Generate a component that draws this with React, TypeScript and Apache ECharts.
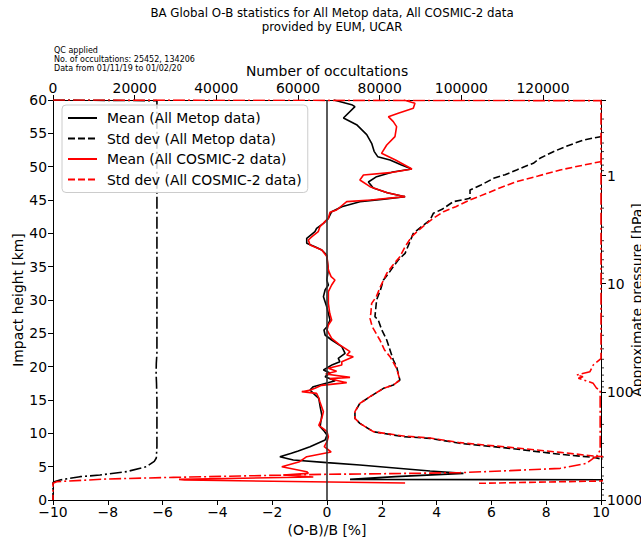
import React, { useEffect, useRef } from "react";
import * as echarts from "echarts";

// [ (O-B)/B %, impact height km ]
const metopMean: number[][] = [
  [0.25, 60], [0.9, 59.3], [1.02, 59.0], [0.6, 57.3], [1.08, 56.3], [1.45, 54.8], [1.63, 53.5], [1.72, 52.3],
  [1.85, 51.5], [2.3, 51.0], [2.7, 50.3], [3.09, 49.65], [2.4, 49.2], [1.81, 48.5], [1.51, 47.7], [1.69, 46.8],
  [2.2, 46.1], [2.85, 45.5], [2.0, 45.1], [1.2, 44.75], [0.54, 44.0], [0.17, 43.25], [0.05, 42.25], [-0.13, 41.5],
  [-0.38, 40.75], [-0.44, 40.25], [-0.74, 39.25], [-0.74, 38.5], [-0.44, 38.0], [-0.19, 37.5], [-0.01, 36.75],
  [0.02, 35.5], [0.05, 34.5], [-0.01, 33.0], [0.05, 32.25], [-0.07, 31.5], [-0.13, 30.5], [-0.01, 29.0],
  [0.11, 27.0], [0.0, 26.0], [-0.11, 25.5], [-0.07, 24.75], [0.17, 24.0], [0.54, 23.0], [0.66, 22.0],
  [0.41, 21.25], [0.47, 20.75], [0.2, 20.3], [-0.13, 19.5], [0.11, 19.05], [-0.07, 18.5], [0.3, 17.9],
  [-0.5, 17.0], [-0.62, 16.5], [-0.45, 15.8], [-0.3, 15.25], [-0.25, 14.0], [-0.19, 12.75], [-0.25, 11.0],
  [-0.1, 10.3], [0.0, 9.75], [-0.07, 9.0], [-0.62, 8.0], [-1.05, 7.35], [-1.3, 7.0], [-1.72, 6.5],
  [-1.23, 6.0], [0.0, 5.6], [1.2, 5.25], [3.76, 4.35], [4.98, 4.0], [2.5, 3.5], [0.84, 3.1], [15, 3.0]
];

const metopStd: number[][] = [
  [14, 57], [9.98, 54.5], [9.36, 54.0], [8.7, 53.0], [8.26, 52.25], [7.77, 51.25], [7.53, 50.5], [7.2, 50.0],
  [6.92, 49.5], [6.5, 48.8], [6.08, 48.25], [5.6, 47.2], [5.22, 46.5], [5.22, 45.25], [4.61, 44.75], [4.2, 43.6],
  [3.88, 43.0], [3.76, 42.0], [3.45, 41.0], [3.15, 40.0], [3.0, 38.5], [2.85, 37.0], [2.6, 36.0], [2.42, 35.0],
  [2.25, 34.0], [2.06, 33.0], [1.95, 31.5], [1.81, 30.0], [1.75, 27.5], [1.87, 27.0], [2.0, 25.5], [2.18, 24.0],
  [2.3, 22.5], [2.42, 21.0], [2.54, 20.0], [2.6, 19.0], [2.66, 18.0], [2.42, 17.25], [2.06, 16.75], [1.57, 15.5],
  [1.2, 14.5], [1.02, 13.25], [1.02, 12.25], [1.2, 11.5], [1.69, 10.25], [2.79, 9.5], [3.76, 9.25], [4.85, 8.5],
  [6.68, 7.75], [8.51, 6.85], [9.72, 6.4], [9.96, 6.2], [14, 5.0], [20, 3.5]
];

const cosmicMean: number[][] = [
  [2.8, 60], [3.21, 59.5], [3.15, 58.75], [2.6, 58.0], [2.24, 57.5], [2.42, 56.75], [2.54, 56.0], [2.5, 55.0],
  [2.48, 54.5], [2.18, 53.25], [1.99, 52.0], [2.5, 51.0], [3.1, 49.65], [2.3, 49.1], [1.33, 48.75], [1.2, 48.0],
  [1.57, 47.0], [2.2, 46.1], [2.85, 45.5], [1.6, 45.0], [0.72, 44.75], [0.35, 43.5], [0.11, 43.15], [0.05, 42.25],
  [-0.26, 41.0], [-0.32, 40.25], [-0.55, 39.5], [-0.68, 39.0], [-0.62, 38.25], [-0.19, 37.5], [0.0, 36.5],
  [0.05, 34.5], [0.15, 33.5], [0.29, 33.0], [0.17, 32.25], [0.05, 31.25], [0.05, 29.5], [0.1, 28.0], [0.17, 27.0],
  [0.05, 26.25], [0.0, 25.5], [0.17, 24.25], [0.45, 23.3], [0.66, 22.75], [0.84, 22.25], [0.72, 21.75],
  [0.96, 21.5], [0.54, 20.75], [0.54, 20.25], [0.05, 19.75], [0.35, 19.3], [-0.05, 18.9], [0.84, 18.4],
  [0.1, 18.2], [0.72, 17.6], [-0.2, 17.2], [-0.44, 16.75], [-0.6, 16.5], [-0.92, 16.25], [-0.38, 16.0],
  [-0.3, 15.3], [-0.26, 14.75], [-0.13, 13.25], [-0.19, 12.25], [-0.3, 11.2], [-0.1, 10.6], [0.0, 10.25],
  [0.05, 9.5], [0.0, 8.75], [-0.1, 8.0], [0.15, 7.2], [-0.74, 6.5], [-1.0, 5.75], [-1.65, 5.0], [-0.74, 4.25],
  [-0.68, 4.0], [-1.6, 3.75], [-0.5, 3.45], [-5.4, 3.1], [-5.2, 3.0], [2.85, 2.55]
];

const cosmicStd: number[][] = [
  [14, 53], [9.98, 50.75], [9.2, 50.1], [8.51, 49.5], [7.7, 48.6], [6.92, 47.75], [6.3, 46.8], [5.83, 46.0],
  [5.22, 45.0], [4.7, 44.0], [4.25, 43.25], [3.9, 42.3], [3.64, 41.5], [3.3, 40.3], [3.09, 39.5], [2.85, 38.0],
  [2.66, 36.5], [2.4, 35.2], [2.18, 34.0], [1.95, 32.0], [1.8, 30.5], [1.63, 29.5], [1.6, 28.0], [1.57, 27.25],
  [1.65, 26.0], [1.93, 24.0], [2.1, 22.5], [2.3, 21.5], [2.54, 19.75], [2.66, 18.0], [2.42, 17.25], [2.06, 16.75],
  [1.57, 15.5], [1.2, 14.5], [1.02, 13.25], [1.02, 12.25], [1.2, 11.5], [1.69, 10.25], [2.79, 9.6], [3.76, 9.3],
  [4.85, 8.6], [6.68, 7.9], [8.51, 7.15], [9.72, 6.6], [10.5, 6.4], [14, 5.0], [10, 2.85], [5.5, 2.5]
];

// [ number of occultations, impact height km ]
const metopCount: number[][] = [
  [0, 60], [25452, 59.9], [25452, 22], [25300, 20.5], [25250, 19], [25350, 17.5], [25452, 15], [25452, 8],
  [25300, 6.3], [24800, 5.8], [22900, 5.0], [18000, 4.25], [11500, 3.75], [6600, 3.5], [1700, 3.0],
  [300, 2.75], [0, 2.6], [0, 0]
];

const cosmicCount: number[][] = [
  [0, 60], [134206, 59.9], [134206, 21.2], [132300, 20.25], [131500, 19.25], [128250, 18.75], [129800, 18.5],
  [128650, 18.25], [130500, 17.9], [132300, 17.5], [133150, 16.75], [134000, 16.5], [134000, 7.5],
  [133100, 6.5], [132300, 6.25], [130700, 5.5], [124200, 4.75], [111900, 4.4], [99700, 4.1], [87400, 4.0],
  [75200, 3.9], [66200, 3.85], [45800, 3.6], [29500, 3.4], [13200, 3.15], [900, 2.75], [0, 2.5], [0, 0]
];

const zeroLine: number[][] = [[0, 0], [0, 60]];

const pressureMinorTicks: number[] = [
  0.3, 0.4, 0.5, 0.6, 0.7, 0.8, 0.9,
  2, 3, 4, 5, 6, 7, 8, 9,
  20, 30, 40, 50, 60, 70, 80, 90,
  200, 300, 400, 500, 600, 700, 800, 900
];

const titleText = "BA Global O-B statistics for All Metop data, All COSMIC-2 data\nprovided by EUM, UCAR";
const infoText = "QC applied\nNo. of occultations: 25452, 134206\nData from 01/11/19 to 01/02/20";
const legendNames = [
  "Mean (All Metop data)",
  "Std dev (All Metop data)",
  "Mean (All COSMIC-2 data)",
  "Std dev (All COSMIC-2 data)"
];

const FONT = "DejaVu Sans";
const TICK_FS = 13.9;
const DASH = [7, 3];
const DASHDOT = [12, 3, 2, 3];

export default function App() {
  const ref = useRef<HTMLDivElement>(null);
  useEffect(() => {
    if (!ref.current) return;
    const chart = echarts.init(ref.current, null, { renderer: "svg" });
    const axisCommon = {
      splitLine: { show: false },
      axisLine: { show: true, onZero: false, lineStyle: { color: "#000", width: 1 } },
      axisTick: { show: true, inside: false, length: 5, lineStyle: { color: "#000", width: 1 } },
      nameTextStyle: { fontSize: TICK_FS, color: "#000", fontFamily: FONT },
      nameLocation: "middle" as const,
      nameMoveOverlap: false
    };
    const minus = (v: number) => (v < 0 ? "\u2212" + Math.abs(v) : String(v));
    const lineSeries = (name: string, data: number[][], color: string, type: any, xi = 0) => ({
      name,
      type: "line",
      data,
      xAxisIndex: xi,
      yAxisIndex: 0,
      showSymbol: false,
      symbol: "none",
      clip: true,
      lineStyle: { color, width: 1.6, type },
      itemStyle: { color },
      emphasis: { disabled: true },
      silent: true
    });
    const option: any = {
      animation: false,
      textStyle: { fontFamily: FONT },
      title: {
        text: titleText,
        left: 327,
        top: 1,
        textAlign: "center",
        textStyle: { fontSize: 11.8, fontWeight: "normal", color: "#000", lineHeight: 14, fontFamily: FONT }
      },
      graphic: [
        {
          type: "text",
          left: 54,
          top: 46,
          style: { text: infoText, font: "8px 'DejaVu Sans'", lineHeight: 9, fill: "#000" }
        }
      ],
      legend: {
        data: legendNames,
        orient: "vertical",
        left: 62,
        top: 105,
        itemWidth: 29,
        itemHeight: 13,
        itemGap: 6.5,
        padding: [6, 6, 6, 5],
        backgroundColor: "rgba(255,255,255,0.8)",
        borderColor: "#cccccc",
        borderWidth: 1,
        borderRadius: 4,
        selectedMode: false,
        itemStyle: { opacity: 0 },
        textStyle: { fontSize: 13.9, color: "#000", fontFamily: FONT, padding: [0, 0, 0, 5] }
      },
      grid: { left: 53, right: 40, top: 100, bottom: 43, containLabel: false, outerBoundsMode: "none" },
      xAxis: [
        {
          ...axisCommon,
          type: "value",
          position: "bottom",
          min: -10,
          max: 10,
          interval: 2,
          name: "(O-B)/B [%]",
          nameGap: 23,
          axisLabel: { fontSize: TICK_FS, color: "#000", margin: 5, formatter: minus, fontFamily: FONT }
        },
        {
          ...axisCommon,
          type: "value",
          position: "top",
          min: 0,
          max: 134206,
          interval: 20000,
          name: "Number of occultations",
          nameGap: 22,
          axisLabel: {
            fontSize: TICK_FS,
            color: "#000",
            margin: 5,
            showMaxLabel: false,
            fontFamily: FONT,
            formatter: (v: number) => String(v)
          }
        }
      ],
      yAxis: [
        {
          ...axisCommon,
          type: "value",
          position: "left",
          min: 0,
          max: 60,
          interval: 5,
          name: "Impact height [km]",
          nameRotate: 90,
          nameGap: 28,
          axisLabel: { fontSize: TICK_FS, color: "#000", margin: 6, fontFamily: FONT }
        },
        {
          ...axisCommon,
          type: "log",
          logBase: 10,
          position: "right",
          min: 0.2,
          max: 1000,
          inverse: true,
          name: "Approximate pressure [hPa]",
          nameRotate: 90,
          nameGap: 29,
          axisLabel: {
            fontSize: TICK_FS,
            color: "#000",
            margin: 6,
            fontFamily: FONT,
            formatter: (v: number) => {
              const l = Math.log10(v);
              return Math.abs(l - Math.round(l)) < 1e-6 ? String(Math.round(v)) : "";
            }
          }
        }
      ],
      series: [
        lineSeries(legendNames[0], metopMean, "#000000", "solid"),
        lineSeries(legendNames[1], metopStd, "#000000", DASH),
        lineSeries("Count Metop", metopCount, "#000000", DASHDOT, 1),
        lineSeries(legendNames[2], cosmicMean, "#ff0000", "solid"),
        lineSeries(legendNames[3], cosmicStd, "#ff0000", DASH),
        lineSeries("Count COSMIC-2", cosmicCount, "#ff0000", DASHDOT, 1),
        { ...lineSeries("zero", zeroLine, "#333333", "solid"), z: 5 },
        {
          type: "custom",
          name: "minorTicks",
          xAxisIndex: 0,
          yAxisIndex: 1,
          silent: true,
          clip: false,
          data: pressureMinorTicks.map((p) => [0, p]),
          renderItem: (params: any, api: any) => {
            const cs = params.coordSys;
            const y = api.coord([0, api.value(1)])[1];
            const x0 = cs.x + cs.width;
            return {
              type: "line",
              shape: { x1: x0, y1: y, x2: x0 + 3, y2: y },
              style: { stroke: "#000", lineWidth: 0.8 }
            };
          }
        }
      ]
    };
    chart.setOption(option);
    return () => chart.dispose();
  }, []);
  return (
    <div
      ref={ref}
      style={{ position: "fixed", left: 0, top: 0, width: 641, height: 543, background: "#fff" }}
    />
  );
}
